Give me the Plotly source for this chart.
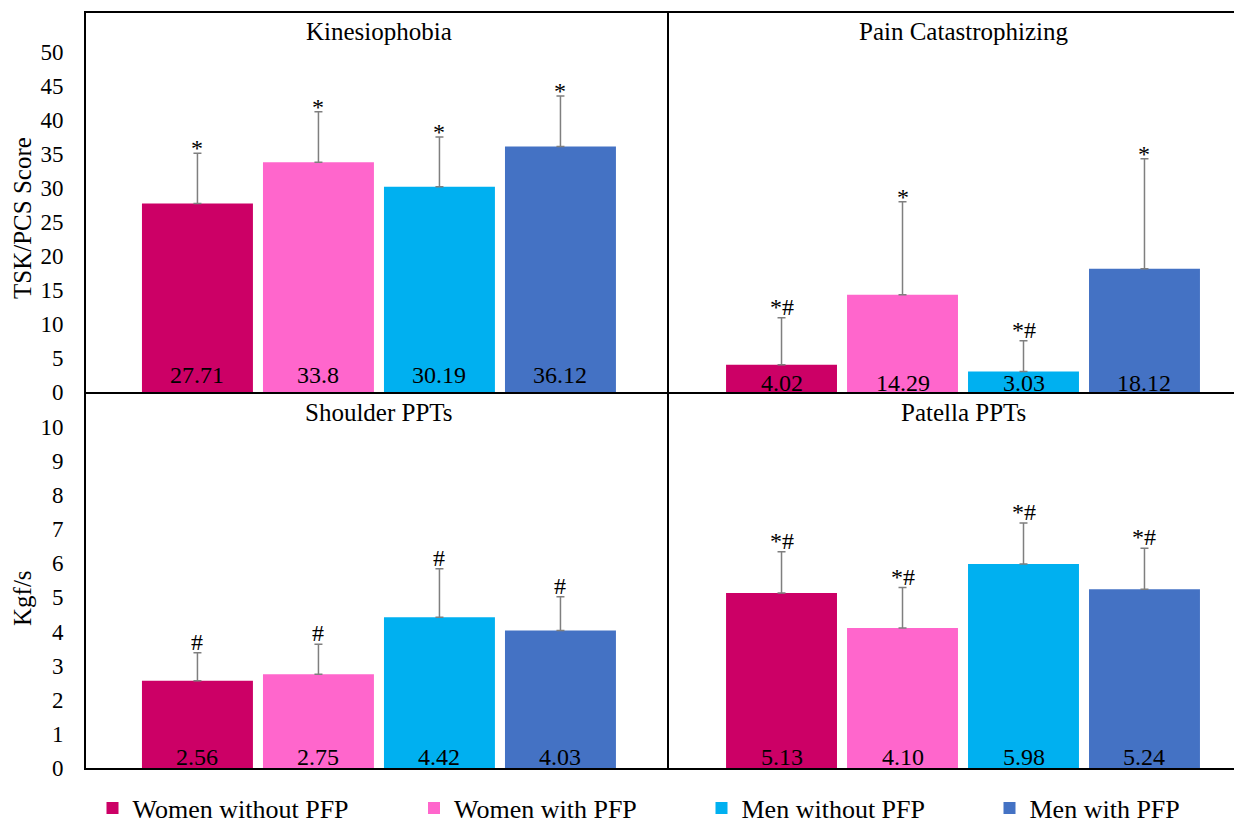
import plotly.graph_objects as go

groups = ["Women without PFP", "Women with PFP", "Men without PFP", "Men with PFP"]
colors = ["#CC0066", "#FF66CC", "#00B0F0", "#4472C4"]

panels = ["Kinesiophobia", "Pain Catastrophizing", "Shoulder PPTs", "Patella PPTs"]

kin_mean = [27.71, 33.8, 30.19, 36.12]
kin_sd = [7.4, 7.4, 7.3, 7.4]
kin_lbl = ["27.71", "33.8", "30.19", "36.12"]
kin_sig = ["*", "*", "*", "*"]

pcs_mean = [4.02, 14.29, 3.03, 18.12]
pcs_sd = [6.9, 13.7, 4.5, 16.2]
pcs_lbl = ["4.02", "14.29", "3.03", "18.12"]
pcs_sig = ["*#", "*", "*#", "*"]

sh_mean = [2.56, 2.75, 4.42, 4.03]
sh_sd = [0.82, 0.88, 1.42, 0.99]
sh_lbl = ["2.56", "2.75", "4.42", "4.03"]
sh_sig = ["#", "#", "#", "#"]

pat_mean = [5.13, 4.10, 5.98, 5.24]
pat_sd = [1.21, 1.19, 1.20, 1.20]
pat_lbl = ["5.13", "4.10", "5.98", "5.24"]
pat_sig = ["*#", "*#", "*#", "*#"]

top_ticks = [0, 5, 10, 15, 20, 25, 30, 35, 40, 45, 50]
bot_ticks = [0, 1, 2, 3, 4, 5, 6, 7, 8, 9, 10]

FONT = "Liberation Serif, Times New Roman, serif"

# the page body adds an 8px offset; work in figure pixels = screen pixels - 8
OFF = 8
W, H = 1242 - OFF, 824 - OFF
L, R, T = 86 - OFF, 0, 13 - OFF
B = H - (768 - OFF)
pw, ph = W - L - R, H - T - B
xsplit = (669 - 86) / pw
ysplit = (768 - 392) / ph


def px_x(sx):
    return (sx - OFF - L) / pw


def px_y(sy):
    return (H - B - (sy - OFF)) / ph


panel_data = [
    (kin_mean, kin_sd, kin_lbl, kin_sig),
    (pcs_mean, pcs_sd, pcs_lbl, pcs_sig),
    (sh_mean, sh_sd, sh_lbl, sh_sig),
    (pat_mean, pat_sd, pat_lbl, pat_sig),
]
axes = [("x", "y"), ("x2", "y2"), ("x3", "y3"), ("x4", "y4")]
legend_ids = ["legend", "legend2", "legend3", "legend4"]
value_shift = [2, -6, -4, -4]

fig = go.Figure()
annotations = []
for p, (means, sds, lbls, sigs) in enumerate(panel_data):
    xa, ya = axes[p]
    for g in range(4):
        fig.add_trace(go.Bar(
            x=[g], y=[means[g]], width=0.917,
            marker=dict(color=colors[g], line=dict(width=0)),
            error_y=dict(type="data", array=[sds[g]], arrayminus=[0], symmetric=False,
                         color="#7F7F7F", thickness=1.5, width=4),
            name=groups[g], showlegend=(p == 0), legend=legend_ids[g],
            xaxis=xa, yaxis=ya,
        ))
        annotations.append(dict(
            x=g, y=0, xref=xa, yref=ya, text=lbls[g], showarrow=False,
            yanchor="bottom", yshift=value_shift[p],
            font=dict(family=FONT, size=24, color="black")))
        annotations.append(dict(
            x=g, y=means[g] + sds[g], xref=xa, yref=ya, text=sigs[g], showarrow=False,
            yanchor="bottom", yshift=(-10 if sigs[g] == "*" else -4),
            font=dict(family=FONT, size=24, color="black")))
    annotations.append(dict(
        x=1.5, y=1, xref=xa, yref=ya + " domain", text=panels[p], showarrow=False,
        yanchor="middle", yshift=(-18 if p < 2 else -20),
        font=dict(family=FONT, size=25, color="black")))

# y-axis titles
annotations.append(dict(x=px_x(22), y=px_y(218), xref="paper", yref="paper",
                        xanchor="center", yanchor="middle",
                        text="TSK/PCS Score", textangle=-90, showarrow=False,
                        font=dict(family=FONT, size=25, color="black")))
annotations.append(dict(x=px_x(22), y=px_y(598), xref="paper", yref="paper",
                        xanchor="center", yanchor="middle",
                        text="Kgf/s", textangle=-90, showarrow=False,
                        font=dict(family=FONT, size=25, color="black")))

common_x = dict(showticklabels=False, ticks="", showgrid=False, zeroline=False,
                showline=True, linecolor="black", linewidth=2)
common_y = dict(showgrid=False, zeroline=False, ticks="", showline=True,
                linecolor="black", linewidth=2,
                tickfont=dict(family=FONT, size=23, color="black"))

fig.update_layout(
    width=W, height=H,
    margin=dict(l=L, r=R, t=T, b=B, pad=0),
    paper_bgcolor="white", plot_bgcolor="white",
    barmode="overlay",
    font=dict(family=FONT, size=23, color="black"),
    xaxis=dict(domain=[0, xsplit], anchor="y", range=[-0.921, 3.897], mirror=True, **common_x),
    xaxis2=dict(domain=[xsplit, 1], anchor="y2", range=[-0.930, 3.806], mirror=True, **common_x),
    xaxis3=dict(domain=[0, xsplit], anchor="y3", range=[-0.921, 3.897], **common_x),
    xaxis4=dict(domain=[xsplit, 1], anchor="y4", range=[-0.930, 3.806], **common_x),
    yaxis=dict(domain=[ysplit, 1], anchor="x", range=[0, 55.74], tickvals=top_ticks,
               ticklabelstandoff=16, **common_y),
    yaxis2=dict(domain=[ysplit, 1], anchor="x2", range=[0, 55.74], showticklabels=False, **common_y),
    yaxis3=dict(domain=[0, ysplit], anchor="x3", range=[0, 11.02], tickvals=bot_ticks,
                ticklabelstandoff=16, **common_y),
    yaxis4=dict(domain=[0, ysplit], anchor="x4", range=[0, 11.02], showticklabels=False, **common_y),
    annotations=annotations,
)

# legend square centres in screen pixels
legend_sq = [117, 438.5, 726, 1014]
for lid, sq in zip(legend_ids, legend_sq):
    lx = sq - OFF - 24.5
    fig.update_layout({lid: dict(x=lx / W, xref="container", xanchor="left",
                                 y=1 - (808 - OFF) / H, yref="container", yanchor="middle",
                                 orientation="h", bgcolor="rgba(0,0,0,0)", borderwidth=0,
                                 font=dict(family=FONT, size=26, color="black"))})

fig.write_html("out.html")
